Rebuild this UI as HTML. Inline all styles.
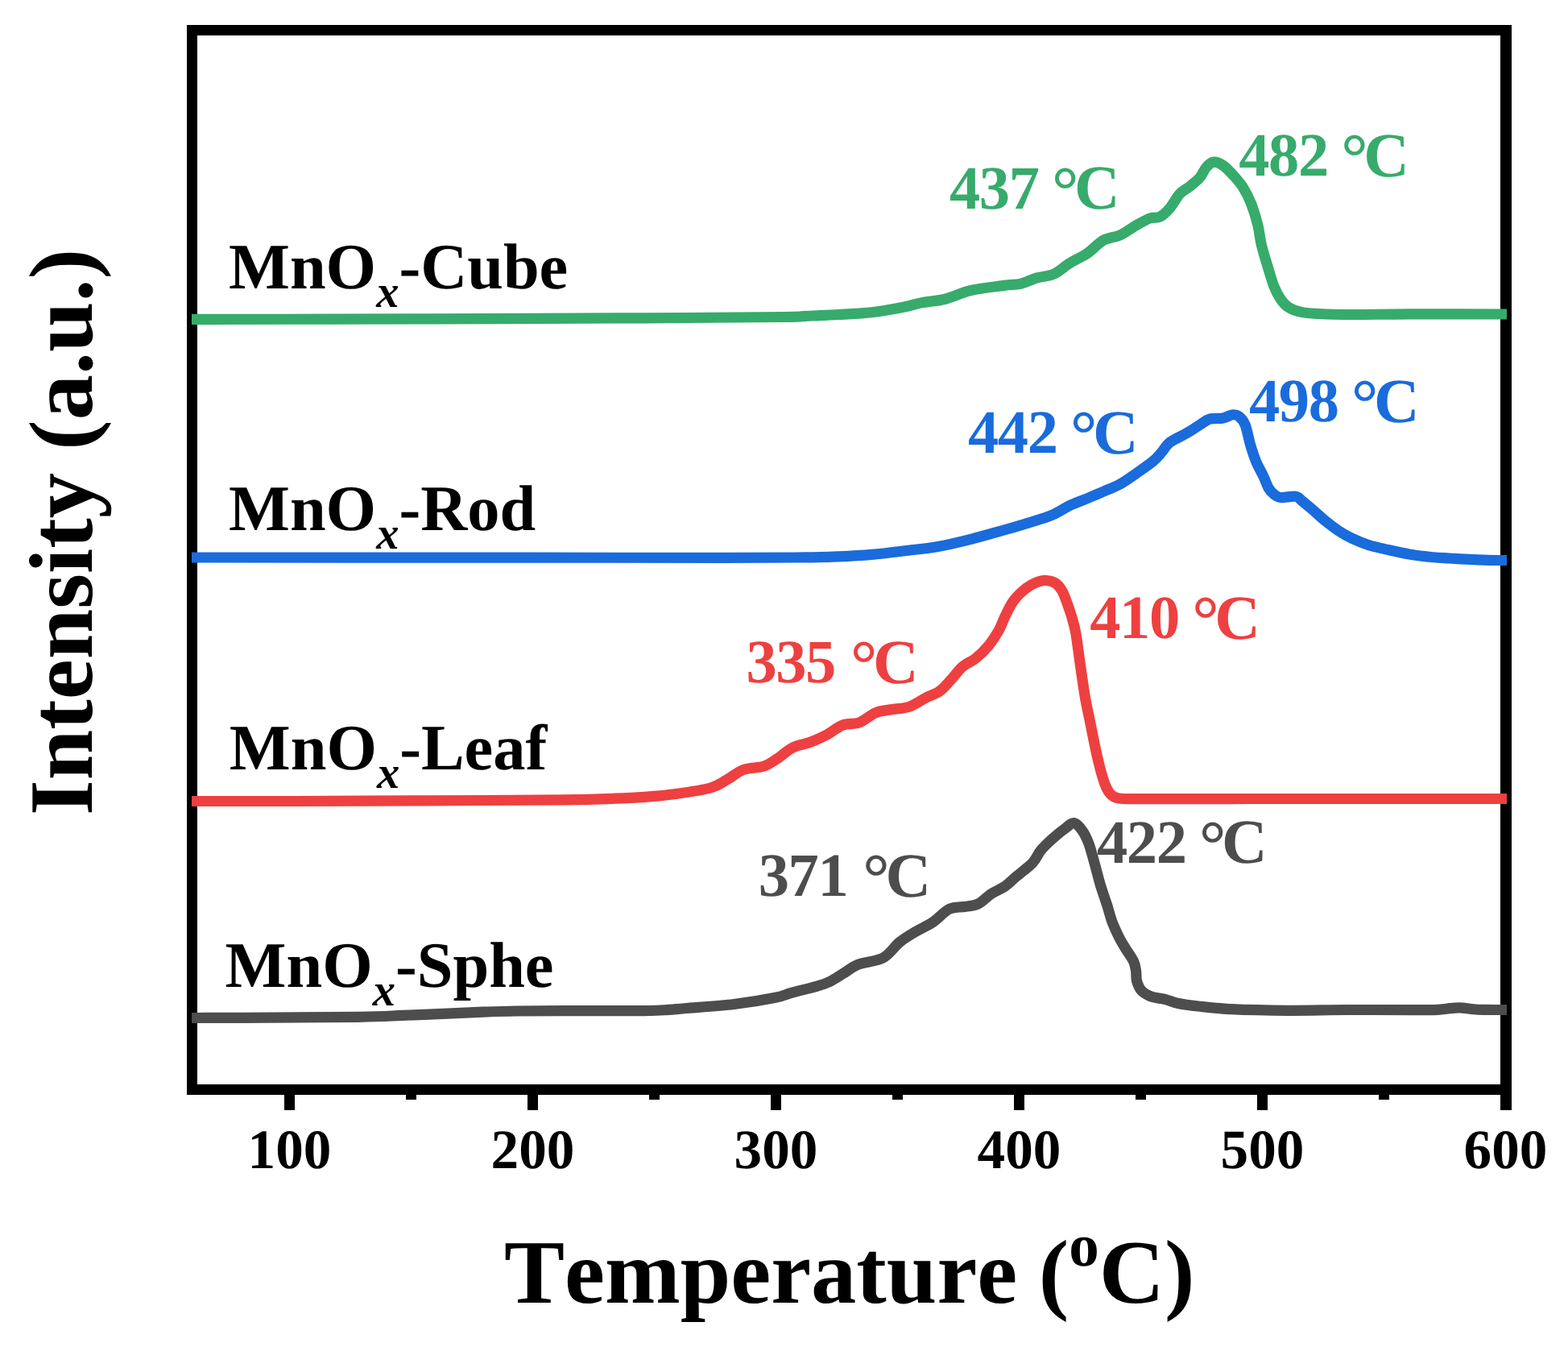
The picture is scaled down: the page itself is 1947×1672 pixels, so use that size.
<!DOCTYPE html>
<html lang="en"><head><meta charset="utf-8"><title>H2-TPR profiles of MnOx catalysts</title>
<style>html,body{margin:0;padding:0;background:#fff;}body{width:1947px;height:1672px;overflow:hidden;}svg{display:block;}text{font-family:"Liberation Serif","Noto Serif CJK SC",serif;font-weight:bold;font-kerning:none;font-variant-ligatures:none;text-rendering:geometricPrecision;}</style></head><body>
<svg width="1947" height="1672" viewBox="0 0 1947 1672">
<rect x="0" y="0" width="1947" height="1672" fill="#fff"/>
<g fill="#000" shape-rendering="crispEdges">
<rect x="232" y="31" width="13" height="1328"/>
<rect x="232" y="31" width="1645" height="13"/>
<rect x="232" y="1346" width="1645" height="13"/>
<rect x="1863" y="31" width="14" height="1347"/>
<rect x="353.00" y="1359" width="13" height="19"/>
<rect x="504.00" y="1359" width="13" height="6"/>
<rect x="655.00" y="1359" width="13" height="19"/>
<rect x="806.00" y="1359" width="13" height="6"/>
<rect x="957.00" y="1359" width="13" height="19"/>
<rect x="1108.00" y="1359" width="13" height="6"/>
<rect x="1259.00" y="1359" width="13" height="19"/>
<rect x="1410.00" y="1359" width="13" height="6"/>
<rect x="1561.00" y="1359" width="13" height="19"/>
<rect x="1712.00" y="1359" width="13" height="6"/>
</g>
<text x="359.50" y="1449.7" font-size="69.2" text-anchor="middle" fill="#000">100</text>
<text x="661.50" y="1449.7" font-size="69.2" text-anchor="middle" fill="#000">200</text>
<text x="963.50" y="1449.7" font-size="69.2" text-anchor="middle" fill="#000">300</text>
<text x="1265.50" y="1449.7" font-size="69.2" text-anchor="middle" fill="#000">400</text>
<text x="1567.50" y="1449.7" font-size="69.2" text-anchor="middle" fill="#000">500</text>
<text x="1869.50" y="1449.7" font-size="69.2" text-anchor="middle" fill="#000">600</text>
<path d="M238.0 1263.5 C248.3 1263.5 265.5 1263.5 300.0 1263.3 C334.5 1263.1 411.7 1262.8 445.0 1262.3 C478.3 1261.8 482.5 1261.1 500.0 1260.4 C517.5 1259.8 533.3 1259.1 550.0 1258.4 C566.7 1257.7 585.0 1256.8 600.0 1256.2 C615.0 1255.6 623.3 1255.2 640.0 1255.0 C656.7 1254.8 673.3 1254.8 700.0 1254.7 C726.7 1254.6 778.3 1254.8 800.0 1254.6 C821.7 1254.4 821.7 1253.9 830.0 1253.4 C838.3 1252.9 836.4 1252.9 850.0 1251.7 C863.6 1250.5 892.8 1248.7 911.6 1246.5 C930.4 1244.3 951.0 1240.7 963.0 1238.3 C975.0 1235.9 973.2 1235.1 983.5 1232.2 C993.8 1229.3 1014.3 1224.7 1024.6 1220.9 C1034.9 1217.1 1038.3 1213.5 1045.2 1209.6 C1052.1 1205.6 1057.2 1200.6 1065.7 1197.2 C1074.2 1193.8 1087.9 1193.6 1096.5 1189.0 C1105.1 1184.4 1110.2 1175.0 1117.1 1169.5 C1123.9 1164.0 1130.8 1160.2 1137.6 1156.1 C1144.4 1152.0 1151.3 1149.4 1158.2 1144.8 C1165.1 1140.2 1171.9 1131.7 1178.7 1128.4 C1185.5 1125.2 1193.3 1126.4 1199.3 1125.3 C1205.2 1124.2 1209.2 1124.6 1214.4 1122.0 C1219.7 1119.4 1225.3 1113.1 1230.8 1109.5 C1236.3 1105.9 1242.2 1104.0 1247.3 1100.5 C1252.4 1097.0 1255.8 1093.2 1261.6 1088.3 C1267.4 1083.4 1277.1 1076.4 1282.2 1070.9 C1287.3 1065.4 1288.3 1060.5 1292.4 1055.5 C1296.5 1050.5 1301.7 1045.7 1306.8 1041.1 C1311.9 1036.5 1318.8 1031.0 1323.3 1027.7 C1327.8 1024.5 1330.1 1021.1 1333.5 1021.6 C1336.9 1022.1 1340.7 1026.5 1343.8 1030.8 C1346.9 1035.1 1349.4 1040.4 1352.0 1047.3 C1354.6 1054.2 1356.8 1063.4 1359.2 1071.9 C1361.6 1080.5 1363.8 1090.0 1366.4 1098.6 C1369.0 1107.2 1372.2 1115.8 1374.6 1123.3 C1377.0 1130.8 1378.4 1137.3 1380.8 1143.8 C1383.2 1150.3 1386.3 1156.8 1389.0 1162.3 C1391.7 1167.8 1394.1 1171.6 1397.2 1176.7 C1400.3 1181.8 1405.3 1188.3 1407.5 1193.1 C1409.7 1197.9 1409.9 1201.3 1410.6 1205.4 C1411.3 1209.5 1410.4 1213.7 1411.6 1217.8 C1412.8 1221.9 1414.7 1226.8 1417.8 1230.1 C1420.9 1233.3 1425.3 1235.6 1430.1 1237.3 C1434.9 1239.0 1441.0 1239.0 1446.5 1240.4 C1452.0 1241.8 1456.2 1244.1 1463.0 1245.5 C1469.8 1246.9 1476.6 1247.8 1487.6 1249.0 C1498.5 1250.2 1510.0 1251.8 1528.7 1252.7 C1547.4 1253.6 1576.0 1254.2 1600.0 1254.3 C1624.0 1254.4 1648.0 1253.6 1673.0 1253.5 C1698.0 1253.4 1732.2 1253.6 1750.0 1253.6 C1767.8 1253.6 1772.3 1253.8 1780.0 1253.6 C1787.7 1253.4 1790.7 1252.7 1796.0 1252.2 C1801.3 1251.7 1806.7 1250.7 1812.0 1250.8 C1817.3 1250.9 1823.0 1252.2 1828.0 1252.6 C1833.0 1253.0 1834.8 1253.2 1842.0 1253.4 C1849.2 1253.6 1866.2 1253.5 1871.0 1253.5" fill="none" stroke="#4D4D4D" stroke-width="13.2" stroke-linejoin="round" stroke-linecap="butt"/>
<path d="M238.0 994.5 C255.0 994.5 304.7 994.5 340.0 994.5 C375.3 994.5 406.7 994.4 450.0 994.2 C493.3 994.0 558.3 993.7 600.0 993.5 C641.7 993.3 673.3 993.2 700.0 992.8 C726.7 992.4 743.3 991.9 760.0 991.3 C776.7 990.7 786.5 990.3 800.0 989.3 C813.5 988.3 827.4 987.1 841.1 985.2 C854.8 983.3 871.9 980.9 882.2 978.0 C892.5 975.1 895.9 971.6 902.7 967.8 C909.6 964.0 915.8 958.1 923.3 955.4 C930.8 952.6 941.0 953.5 947.9 951.3 C954.8 949.1 958.2 946.0 964.4 942.1 C970.6 938.2 978.1 931.1 984.9 927.7 C991.7 924.3 998.5 924.1 1005.4 921.5 C1012.2 918.9 1019.1 915.9 1026.0 912.3 C1032.8 908.7 1039.7 902.6 1046.5 900.0 C1053.3 897.4 1060.2 899.5 1067.1 896.9 C1073.9 894.3 1080.8 887.3 1087.6 884.6 C1094.4 881.9 1101.3 881.7 1108.2 880.5 C1115.1 879.3 1121.9 879.8 1128.7 877.4 C1135.5 875.0 1143.0 869.5 1149.3 866.3 C1155.6 863.1 1161.2 862.0 1166.4 858.2 C1171.7 854.5 1176.0 848.9 1180.8 843.8 C1185.6 838.7 1190.1 831.8 1195.2 827.4 C1200.3 823.0 1206.1 821.5 1211.6 817.1 C1217.1 812.7 1223.3 806.5 1228.1 800.7 C1232.9 794.9 1237.0 788.4 1240.4 782.2 C1243.8 776.0 1245.5 769.9 1248.6 763.7 C1251.7 757.5 1254.8 750.7 1258.9 745.2 C1263.0 739.7 1268.5 734.6 1273.3 730.8 C1278.1 727.0 1283.3 724.3 1287.6 722.6 C1291.9 720.9 1295.1 720.3 1298.9 720.5 C1302.7 720.7 1306.9 721.5 1310.2 723.6 C1313.5 725.7 1316.1 729.0 1318.5 732.9 C1320.9 736.8 1322.5 741.8 1324.6 747.3 C1326.6 752.8 1328.9 759.2 1330.8 765.7 C1332.7 772.2 1334.2 776.7 1335.9 786.3 C1337.6 795.9 1339.2 810.3 1341.1 823.3 C1343.0 836.3 1345.2 852.4 1347.2 864.4 C1349.2 876.4 1351.3 884.9 1353.4 895.2 C1355.5 905.5 1357.5 916.4 1359.6 926.0 C1361.6 935.6 1363.7 944.8 1365.7 952.7 C1367.8 960.6 1369.9 967.9 1371.9 973.2 C1374.0 978.5 1375.3 981.6 1378.0 984.5 C1380.7 987.4 1381.8 989.5 1388.3 990.7 C1394.8 991.9 1390.1 991.6 1417.1 991.7 C1444.0 991.8 1474.3 991.5 1550.0 991.5 C1625.7 991.5 1817.5 991.5 1871.0 991.5" fill="none" stroke="#EE4040" stroke-width="13.2" stroke-linejoin="round" stroke-linecap="butt"/>
<path d="M238.0 692.0 C298.3 692.0 489.7 692.2 600.0 692.2 C710.3 692.2 833.3 692.3 900.0 692.3 C966.7 692.2 976.5 692.1 1000.0 691.9 C1023.5 691.7 1027.3 691.5 1041.0 690.9 C1054.7 690.3 1068.5 689.6 1082.2 688.4 C1095.9 687.2 1109.6 685.4 1123.3 683.7 C1137.0 682.1 1150.7 680.9 1164.4 678.5 C1178.1 676.1 1191.7 672.7 1205.4 669.3 C1219.1 665.9 1232.8 661.9 1246.5 658.0 C1260.2 654.1 1277.3 649.0 1287.6 645.7 C1297.9 642.5 1301.3 641.6 1308.2 638.5 C1315.1 635.4 1321.9 630.5 1328.7 627.2 C1335.5 624.0 1342.3 621.9 1349.3 619.0 C1356.3 616.1 1363.5 613.0 1370.5 610.0 C1377.5 607.0 1384.2 604.6 1391.1 600.8 C1397.9 597.0 1404.8 591.9 1411.6 587.1 C1418.4 582.3 1427.1 576.4 1432.2 572.1 C1437.3 567.8 1439.0 565.2 1442.4 561.4 C1445.8 557.6 1447.6 553.0 1452.7 549.1 C1457.8 545.2 1467.1 541.4 1473.3 537.8 C1479.5 534.2 1484.9 530.5 1489.7 527.5 C1494.5 524.5 1497.2 521.5 1502.0 520.1 C1506.8 518.7 1513.7 519.8 1518.5 518.9 C1523.3 518.0 1527.4 515.1 1530.8 514.8 C1534.2 514.5 1536.4 515.2 1539.0 517.3 C1541.6 519.4 1543.9 521.7 1546.2 527.5 C1548.5 533.3 1550.4 544.7 1552.6 552.2 C1554.8 559.7 1556.9 566.2 1559.6 572.7 C1562.3 579.2 1566.2 585.7 1568.8 591.2 C1571.4 596.7 1572.8 601.8 1575.0 605.6 C1577.2 609.4 1579.6 611.8 1582.2 613.8 C1584.8 615.8 1586.0 617.1 1590.4 617.5 C1594.9 617.9 1604.5 615.5 1608.9 616.3 C1613.3 617.0 1613.6 619.3 1617.0 622.0 C1620.4 624.7 1624.6 628.2 1629.4 632.3 C1634.2 636.4 1640.3 642.2 1645.8 646.7 C1651.3 651.2 1656.8 655.4 1662.3 659.0 C1667.8 662.6 1672.5 665.4 1678.7 668.3 C1684.9 671.2 1692.4 674.3 1699.2 676.5 C1706.0 678.7 1711.3 679.7 1719.8 681.6 C1728.3 683.5 1740.0 686.3 1750.0 688.0 C1760.0 689.7 1771.7 691.0 1780.0 691.8 C1788.3 692.6 1793.3 692.6 1800.0 693.0 C1806.7 693.4 1811.7 693.8 1820.0 694.2 C1828.3 694.6 1841.5 695.1 1850.0 695.3 C1858.5 695.5 1867.5 695.5 1871.0 695.5" fill="none" stroke="#1A6BDC" stroke-width="13.2" stroke-linejoin="round" stroke-linecap="butt"/>
<path d="M238.0 396.3 C265.0 396.3 339.7 396.3 400.0 396.2 C460.3 396.1 533.3 395.8 600.0 395.6 C666.7 395.4 737.8 395.2 800.0 394.8 C862.2 394.4 939.7 393.9 973.0 393.5 C1006.3 393.1 988.7 392.9 1000.0 392.4 C1011.3 391.9 1027.3 391.3 1041.0 390.5 C1054.7 389.7 1068.5 389.4 1082.2 387.8 C1095.9 386.2 1112.7 383.0 1123.0 381.0 C1133.3 379.0 1135.2 377.6 1143.8 375.9 C1152.4 374.2 1164.3 373.6 1174.6 371.0 C1184.9 368.4 1193.4 363.3 1205.4 360.5 C1217.4 357.7 1236.2 355.8 1246.5 354.4 C1256.8 353.0 1260.2 353.9 1267.0 352.3 C1273.8 350.7 1280.7 346.9 1287.6 344.9 C1294.5 342.9 1301.3 343.3 1308.2 340.2 C1315.1 337.1 1321.9 330.6 1328.7 326.4 C1335.5 322.2 1342.3 319.8 1349.3 315.1 C1356.3 310.4 1363.5 302.0 1370.5 298.1 C1377.5 294.2 1384.2 294.9 1391.1 291.7 C1397.9 288.5 1405.4 282.7 1411.6 279.2 C1417.8 275.7 1423.3 272.6 1428.1 270.9 C1432.9 269.2 1436.3 271.2 1440.4 269.1 C1444.5 267.0 1448.6 263.0 1452.7 258.2 C1456.8 253.4 1460.9 245.0 1465.0 240.5 C1469.1 236.0 1473.3 234.6 1477.4 231.3 C1481.5 228.0 1486.3 224.6 1489.7 220.6 C1493.1 216.6 1495.0 210.8 1497.9 207.5 C1500.8 204.2 1503.8 201.5 1507.2 201.1 C1510.6 200.7 1514.6 202.5 1518.5 205.2 C1522.4 207.8 1526.7 212.5 1530.8 217.0 C1534.9 221.5 1539.3 226.1 1543.1 232.0 C1546.9 237.9 1550.3 244.5 1553.4 252.4 C1556.5 260.3 1559.7 270.6 1561.8 279.2 C1563.9 287.8 1564.3 295.2 1566.3 303.8 C1568.3 312.4 1571.4 321.9 1574.0 330.5 C1576.6 339.1 1579.1 348.3 1581.8 355.2 C1584.5 362.1 1587.3 367.2 1590.4 371.6 C1593.5 376.1 1596.2 379.2 1600.6 381.9 C1605.0 384.6 1610.8 386.3 1617.0 387.6 C1623.2 388.9 1627.3 389.0 1637.6 389.5 C1647.9 390.0 1660.0 390.4 1678.7 390.5 C1697.4 390.6 1718.0 389.9 1750.0 389.8 C1782.0 389.7 1850.8 390.0 1871.0 390.0" fill="none" stroke="#37AB6B" stroke-width="13.2" stroke-linejoin="round" stroke-linecap="butt"/>
<text x="626" y="1617" font-size="112.5" fill="#000" letter-spacing="0">Temperature <tspan dx="-1.6">(</tspan><tspan font-size="75" dy="-45.8">o</tspan><tspan dy="45.8">C)</tspan></text>
<text transform="translate(113.8 1012) rotate(-90)" font-size="112.5" fill="#000" letter-spacing="0">Intensity (a.u.)</text>
<text x="284" y="358.1" font-size="80.4" fill="#000" letter-spacing="0">MnO<tspan font-style="italic" font-size="56.5" dy="23">x</tspan><tspan dy="-23">-Cube</tspan></text>
<text x="284" y="657.9" font-size="80.4" fill="#000" letter-spacing="0">MnO<tspan font-style="italic" font-size="56.5" dy="23">x</tspan><tspan dy="-23">-Rod</tspan></text>
<text x="284.8" y="954.9" font-size="80.4" fill="#000" letter-spacing="0">MnO<tspan font-style="italic" font-size="56.5" dy="23">x</tspan><tspan dy="-23">-Leaf</tspan></text>
<text x="279.6" y="1224.8" font-size="80.4" fill="#000" letter-spacing="0">MnO<tspan font-style="italic" font-size="56.5" dy="23">x</tspan><tspan dy="-23">-Sphe</tspan></text>
<text x="1179.00" y="258.90" font-size="76.5" fill="#37AB6B"><tspan letter-spacing="-1.4">437</tspan> <tspan x="1306.00" y="263.90" font-size="83.4">°</tspan><tspan x="1334.10" y="259.40" font-size="78.3">C</tspan></text>
<text x="1538.20" y="218.20" font-size="76.5" fill="#37AB6B"><tspan letter-spacing="-1.4">482</tspan> <tspan x="1665.20" y="223.20" font-size="83.4">°</tspan><tspan x="1693.30" y="218.70" font-size="78.3">C</tspan></text>
<text x="1202.00" y="562.00" font-size="76.5" fill="#1A6BDC"><tspan letter-spacing="-1.4">442</tspan> <tspan x="1329.00" y="567.00" font-size="83.4">°</tspan><tspan x="1357.10" y="562.50" font-size="78.3">C</tspan></text>
<text x="1551.00" y="523.20" font-size="76.5" fill="#1A6BDC"><tspan letter-spacing="-1.4">498</tspan> <tspan x="1678.00" y="528.20" font-size="83.4">°</tspan><tspan x="1706.10" y="523.70" font-size="78.3">C</tspan></text>
<text x="926.40" y="847.00" font-size="76.5" fill="#EE4040"><tspan letter-spacing="-1.4">335</tspan> <tspan x="1056.00" y="852.00" font-size="83.4">°</tspan><tspan x="1084.10" y="847.50" font-size="78.3">C</tspan></text>
<text x="1353.20" y="792.00" font-size="76.5" fill="#EE4040"><tspan letter-spacing="-1.4">410</tspan> <tspan x="1480.20" y="797.00" font-size="83.4">°</tspan><tspan x="1508.30" y="792.50" font-size="78.3">C</tspan></text>
<text x="941.70" y="1112.00" font-size="76.5" fill="#4D4D4D"><tspan letter-spacing="-1.4">371</tspan> <tspan x="1071.30" y="1117.00" font-size="83.4">°</tspan><tspan x="1099.40" y="1112.50" font-size="78.3">C</tspan></text>
<text x="1362.00" y="1070.80" font-size="76.5" fill="#4D4D4D"><tspan letter-spacing="-1.4">422</tspan> <tspan x="1489.00" y="1075.80" font-size="83.4">°</tspan><tspan x="1517.10" y="1071.30" font-size="78.3">C</tspan></text>
</svg></body></html>
